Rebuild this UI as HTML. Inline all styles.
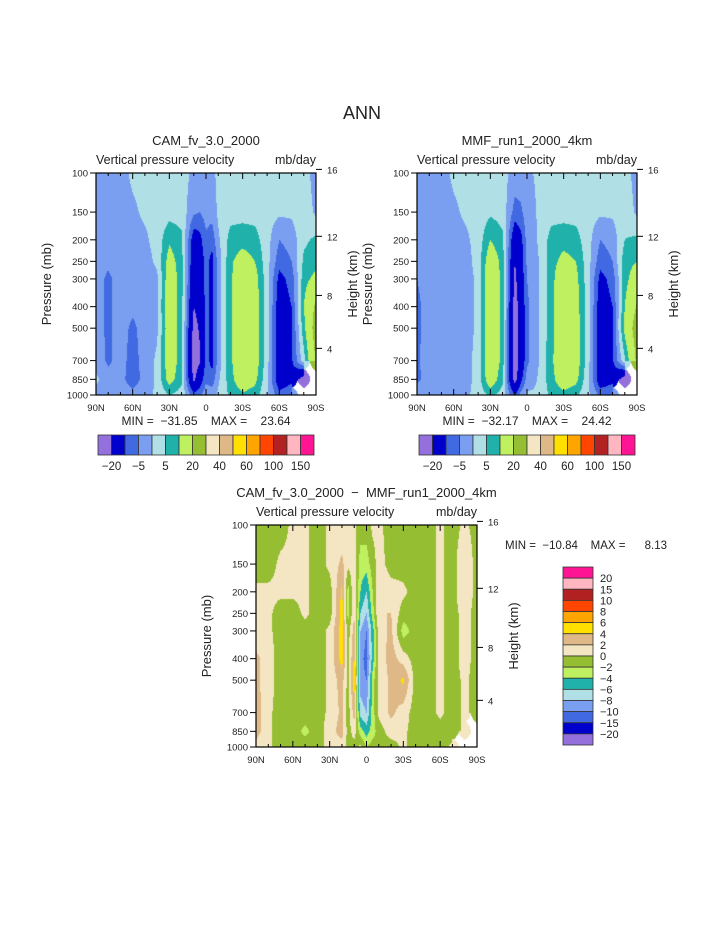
<!DOCTYPE html>
<html><head><meta charset="utf-8">
<style>
html,body{margin:0;padding:0;background:#fff;}
body{width:723px;height:935px;position:relative;overflow:hidden;font-family:"Liberation Sans",sans-serif;color:#222;}
canvas{position:absolute;}
svg{position:absolute;left:0;top:0;}
svg text{font-family:"Liberation Sans",sans-serif;fill:#222;white-space:pre;}
</style></head>
<body>
<canvas id="c1"></canvas>
<canvas id="c2"></canvas>
<canvas id="c3"></canvas>
<svg id="ov" width="723" height="935"></svg>
<script>
// ---- data ----
const levels = [100,150,200,250,300,400,500,700,850,1000];
const latsMain = [90,80,70,60,50,40,30,20,10,5,0,-5,-10,-20,-30,-40,-50,-60,-70,-80,-90];
const camValues = [
[-2,-2,-2,-2,-3,-3,-3,-2,1,-2],
[-2,-2,-3,-4,-6,-6,-6,-6,-3,-2],
[-2,-2,-2,-2,-3,-3,-3,-3,-3,-2],
[1,-1,-2,-2,-3,-4,-6,-7,-8,-3],
[2,1,-1,-2,-2,-3,-3,-3,-3,-2],
[2,2,2,1,-1,-1,-1,1,1,1],
[2,3,9,13,15,16,15,15,13,5],
[2,3,6,7,7,7,7,7,6,3],
[-1,-4,-14,-16,-17,-20,-23,-25,-22,-8],
[-2,-5,-12,-14,-15,-17,-19,-21,-14,-6],
[-1,-3,-6,-8,-8,-8,-8,-8,-6,-2],
[-1,-3,-8,-12,-12,-12,-12,-12,-8,-2],
[1,1,-1,-3,-3,-3,-3,-3,-1,1],
[2,3,7,9,9,9,9,9,8,6],
[2,3,8,13,16,16,16,16,15,9],
[2,3,7,10,13,14,14,14,12,7],
[2,2,2,2,2,2,2,2,1,1],
[2,1,-5,-8,-12,-14,-15,-15,-15,-8],
[2,1,-3,-5,-8,-10,-11,-11,-12,-5],
[2,3,4,6,8,10,8,3,-25,null],
[-2,-1,6,8,12,22,25,21,null,null]];
const mmfValues = [
[-3,-3,-4,-5,-5,-6,-6,-6,-6,-2],
[-2,-2,-2,-3,-3,-3,-3,-2,-3,-2],
[-2,-2,-2,-2,-2,-2,-3,-3,-4,-2],
[1,-1,-2,-2,-3,-4,-4,-4,-5,-2],
[2,1,-1,-2,-2,-2,-2,-2,-2,-1],
[2,2,2,2,1,1,1,2,2,2],
[2,4,10,15,17,18,18,17,15,6],
[2,3,6,8,8,8,8,8,6,3],
[-2,-7,-16,-20,-22,-24,-26,-26,-24,-10],
[-2,-6,-12,-14,-14,-16,-16,-16,-12,-3],
[-1,-2,-3,-4,-5,-6,-6,-6,-3,1],
[0,-1,-2,-2,-3,-3,-3,-3,-2,1],
[1,1,1,0,0,0,0,0,1,2],
[2,3,7,8,8,8,8,9,8,6],
[2,3,8,12,16,16,16,16,15,8],
[2,3,7,10,12,13,14,14,12,6],
[2,2,2,2,2,2,2,2,1,1],
[2,1,-5,-8,-12,-14,-15,-15,-15,-6],
[2,1,-3,-5,-8,-10,-11,-11,-12,-5],
[2,3,5,8,8,10,12,4,-25,null],
[-2,-1,6,10,14,21,25,22,null,null]];
const latsDiff = [90,80,70,60,50,40,30,20,15,10,5,0,-5,-10,-20,-30,-40,-50,-60,-70,-80,-90];
const diffValues = [
[-1,-1,0.5,0.5,0.5,2.5,2.5,3,3,1],
[-1,-1,0.5,0.5,0.5,1,1,0.5,0.5,0.5],
[-1,0.5,0.5,-1,-1,-1,-1,-1,-1,-1],
[0.5,0.5,0.5,-1,-1,-1,-1,-1,-1,-1],
[0.5,0.5,0.5,0.5,-1,-1,-1,-1,-2.5,-1],
[-1,-1,-1,-1,-1,-1,-1,-1,-1,-1],
[0.5,0.5,-1,-1,0.5,0.5,0.5,0.5,1,1],
[0.5,2.5,4.5,5,5,5,3,2.5,3,1],
[0.5,0.5,-3,-3,-1,-1,-1,-1,-1,-0.5],
[0.5,1,2,2,3,4.5,5.5,3,1,-1],
[-1,-3,-4,-6,-8,-9,-9,-7,-3,0.5],
[-1,-3,-6,-8,-10,-11,-10,-8,-5,-2],
[0.5,-1,-2,-3,-5,-5,-3,-3,-3,-1],
[0.5,1,2,2,1,0.5,0.5,0.5,-1,-1],
[-1,-1,1,2,2.5,3,2.5,2.5,1,-1],
[-1,-1,0.5,-1,-3,1,4.5,1,0.5,0.5],
[-1,-1,-1,-1,-1,-1,-1,-1,-1,-1],
[-1,-1,-1,-1,-1,-1,-1,-1,-1,-1],
[0.5,0.5,0.5,0.5,0.5,0.5,0.5,0.5,-1,-1],
[-1,-1,-1,-1,-1,-1,-1,-1,-1,0.5],
[0.5,2,2,1,1,1,0.5,0.5,0.5,null],
[-1,-1,-1,-1,-1,-1,-1,-1,null,null]];
const mainContours = [-20,-10,-5,0,5,10,20,30,40,50,60,80,100,120,150];
const mainLabels = ["-20","-5","5","20","40","60","100","150"];
const diffContours = [-20,-15,-10,-8,-6,-4,-2,0,2,4,6,8,10,15,20];
const diffLabels = ["-20","-15","-10","-8","-6","-4","-2","0","2","4","6","8","10","15","20"];
const palette = ["#9370db","#0000cd","#4169e1","#7b9ff0","#b0e0e6","#20b2aa","#bff060","#96be32","#f5e6c3","#deb887","#ffe000","#ffa500","#ff4500","#b22222","#ffb6c1","#ff1493"];
const latTicks = [90,60,30,0,-30,-60,-90];
const latTickLabels = ["90N","60N","30N","0","30S","60S","90S"];
const presTicks = [100,150,200,250,300,400,500,700,850,1000];
const kmTicks = [16,12,8,4];

// ---- drawing ----
const NS='http://www.w3.org/2000/svg';
const ov=document.getElementById('ov');
function mk(tag,attrs,name,parent){const e=document.createElementNS(NS,tag);for(const k in attrs)e.setAttribute(k,attrs[k]);


(parent||ov).appendChild(e);return e;}
function txt(x,y,s,size,anchor,name,rot){const t=mk('text',{x:x,y:y,'font-size':size,'text-anchor':anchor||'middle'},name);if(rot)t.setAttribute('transform','rotate(-90 '+x+' '+y+')');t.textContent=s;return t;}
function hexRgb(h){return [parseInt(h.substr(1,2),16),parseInt(h.substr(3,2),16),parseInt(h.substr(5,2),16)];}
const palRgb=palette.map(hexRgb);

function panel(cfg){
  const {id,x0,y0,w,h,lats,vals,cont}=cfg;
  const xScale=lat=>x0+(90-lat)/180*w;
  const yScale=p=>y0+(Math.log10(p)-2)*h;
  const cv=document.getElementById(id);cv.width=w;cv.height=h;cv.style.left=x0+'px';cv.style.top=y0+'px';
  const ctx=cv.getContext('2d');const img=ctx.createImageData(w,h);
  const lx=lats.map(l=>xScale(l)-x0), ly=levels.map(p=>yScale(p)-y0);
  for(let py=0;py<h;py++){
    let j=0;while(j<ly.length-2&&py+0.5>ly[j+1])j++;
    const ty=Math.min(1,Math.max(0,(py+0.5-ly[j])/(ly[j+1]-ly[j])));
    for(let px=0;px<w;px++){
      let i=0;while(i<lx.length-2&&px+0.5>lx[i+1])i++;
      const tx=Math.min(1,Math.max(0,(px+0.5-lx[i])/(lx[i+1]-lx[i])));
      const a=vals[i][j],b=vals[i+1][j],c=vals[i][j+1],d=vals[i+1][j+1];
      let col=[255,255,255];
      if(a!==null&&b!==null&&c!==null&&d!==null){
        const v=(a*(1-tx)+b*tx)*(1-ty)+(c*(1-tx)+d*tx)*ty;
        let k=0;while(k<cont.length&&v>=cont[k])k++;col=palRgb[k];
      } else {
        const nn=[[a,1-tx,1-ty],[b,tx,1-ty],[c,1-tx,ty],[d,tx,ty]];
        let best=null,bw=-1;nn.forEach(q=>{const wq=q[1]*q[2];if(q[0]!==null&&wq>bw&&wq>0.45){bw=wq;best=q[0];}});
        if(best!==null){let k=0;while(k<cont.length&&best>=cont[k])k++;col=palRgb[k];}
      }
      const o=(py*w+px)*4;img.data[o]=col[0];img.data[o+1]=col[1];img.data[o+2]=col[2];img.data[o+3]=255;
    }
  }
  ctx.putImageData(img,0,0);
  mk('rect',{x:x0,y:y0,width:w,height:h,fill:'none',stroke:'#000','stroke-width':1.2},cfg.name+'-frame');
  for(let lat=90;lat>=-90;lat-=10){const X=xScale(lat);const major=lat%30===0;const L=major?6:3;
    mk('line',{x1:X,y1:y0+h,x2:X,y2:y0+h-L,stroke:'#000','stroke-width':1},cfg.name+'-x-tick');
    mk('line',{x1:X,y1:y0,x2:X,y2:y0+L,stroke:'#000','stroke-width':1},cfg.name+'-x-tick-top');}
  latTicks.forEach((lat,k)=>txt(xScale(lat),y0+h+16,latTickLabels[k],9.5,'middle',cfg.name+'-x-label'));
  presTicks.forEach(p=>{const Y=yScale(p);mk('line',{x1:x0-6,y1:Y,x2:x0,y2:Y,stroke:'#000'},cfg.name+'-y-tick');
    txt(x0-8,Y+3.5,String(p),9.5,'end',cfg.name+'-y-label');});
  kmTicks.forEach(z=>{const p=1013.25*Math.pow(1-2.25577e-5*z*1000,5.25588);const Y=yScale(p);
    mk('line',{x1:x0+w,y1:Y,x2:x0+w+6,y2:Y,stroke:'#000'},cfg.name+'-height-tick');
    txt(x0+w+11,Y+4,String(z),9.5,'start',cfg.name+'-height-label');});
  txt(x0-45,y0+h/2,'Pressure (mb)',13,'middle',cfg.name+'-y-axis-title',true);
  txt(x0+w+41,y0+h/2,'Height (km)',13,'middle',cfg.name+'-height-axis-title',true);
  txt(x0+w/2,y0-28,cfg.title,13,'middle',cfg.name+'-title');
  txt(x0,y0-9,'Vertical pressure velocity',12.5,'start',cfg.name+'-subtitle');
  txt(x0+w,y0-9,'mb/day',12.5,'end',cfg.name+'-units');
}
function hbar(x0,y0,name){const bw=216/16;
  palette.forEach((c,k)=>mk('rect',{x:x0+k*bw,y:y0,width:bw,height:20,fill:c,stroke:'#333','stroke-width':0.8},name+'-box'));
  mainLabels.forEach((s,k)=>txt(x0+(2*k+1)*bw,y0+35,s.replace('-','\u2212'),11.5,'middle',name+'-label'));}

panel({id:'c1',name:'cam',x0:96,y0:173,w:220,h:222,lats:latsMain,vals:camValues,cont:mainContours,title:'CAM_fv_3.0_2000'});
panel({id:'c2',name:'mmf',x0:417,y0:173,w:220,h:222,lats:latsMain,vals:mmfValues,cont:mainContours,title:'MMF_run1_2000_4km'});
panel({id:'c3',name:'diff',x0:256,y0:525,w:221,h:222,lats:latsDiff,vals:diffValues,cont:diffContours,title:'CAM_fv_3.0_2000  \u2212  MMF_run1_2000_4km'});
txt(362,119,'ANN',18,'middle','main-title');
txt(206,425,'MIN =  \u221231.85    MAX =    23.64',12,'middle','cam-min-max');
txt(527,425,'MIN =  \u221232.17    MAX =    24.42',12,'middle','mmf-min-max');
txt(505,549,'MIN =  \u221210.84    MAX =      8.13',11.5,'start','diff-min-max');
hbar(98,435,'cam-colorbar');
hbar(419,435,'mmf-colorbar');
(function(){const x0=563,y0=567,bh=178/16;
  palette.slice().reverse().forEach((c,k)=>mk('rect',{x:x0,y:y0+k*bh,width:30,height:bh,fill:c,stroke:'#333','stroke-width':0.8},'diff-colorbar-box'));
  diffLabels.slice().reverse().forEach((s,k)=>txt(x0+37,y0+(k+1)*bh+4,s.replace('-','\u2212'),11,'start','diff-colorbar-label'));})();
</script>
</body></html>
